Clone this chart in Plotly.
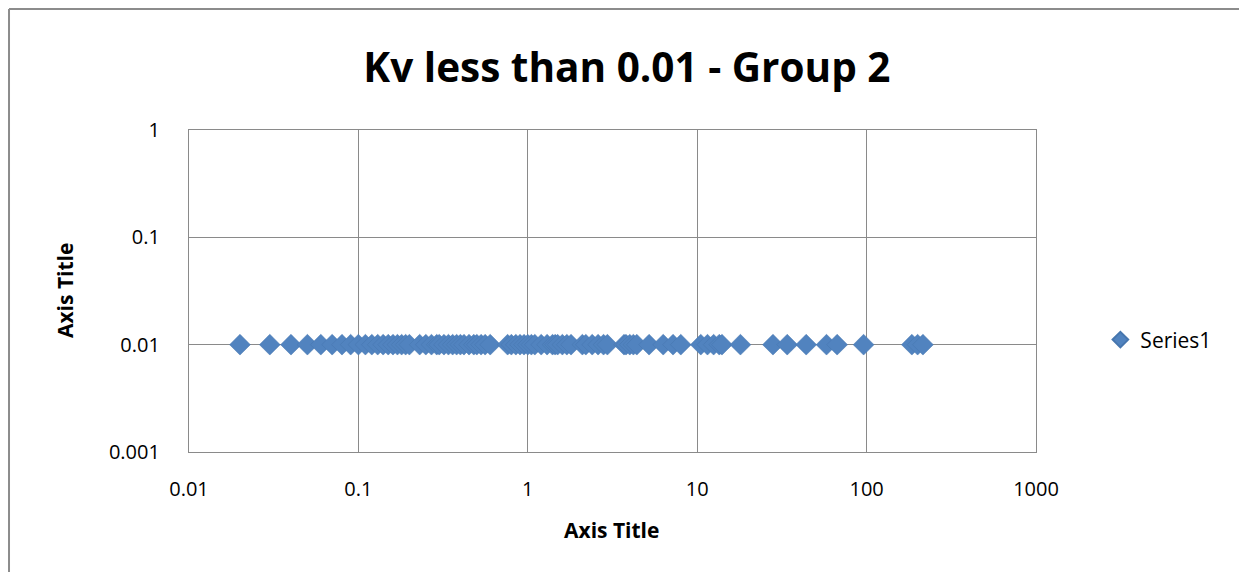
import plotly.graph_objects as go

# Data (x values, all y = 0.01)
x_values = [0.02, 0.03, 0.04, 0.05, 0.06, 0.07, 0.08, 0.09, 0.1, 0.11, 0.12, 0.13,
            0.14, 0.15, 0.16, 0.17, 0.18, 0.19, 0.2, 0.23, 0.25, 0.27, 0.29, 0.3,
            0.32, 0.34, 0.36, 0.38, 0.4, 0.42, 0.45, 0.48, 0.5, 0.53, 0.56, 0.6,
            0.76, 0.8, 0.85, 0.9, 0.95, 1.0, 1.05, 1.1, 1.2, 1.3, 1.4, 1.45, 1.5,
            1.6, 1.7, 1.8, 2.1, 2.2, 2.4, 2.6, 2.8, 2.95, 3.7, 3.8, 4.0, 4.2, 4.4,
            5.2, 6.3, 7.2, 8.0, 10.5, 11.5, 12.5, 13.5, 14.0, 18, 28, 34, 44, 58,
            67, 96, 185, 200, 215]
y_values = [0.01] * len(x_values)

x_ticks = [0.01, 0.1, 1, 10, 100, 1000]
x_tick_labels = ["0.01", "0.1", "1", "10", "100", "1000"]
y_ticks = [0.001, 0.01, 0.1, 1]
y_tick_labels = ["0.001", "0.01", "0.1", "1"]

font_family = "Open Sans, Liberation Sans, sans-serif"
grid_color = "#8A8A8A"

fig = go.Figure()
fig.add_trace(go.Scatter(
    x=x_values, y=y_values, mode="markers", name="Series1",
    marker=dict(symbol="diamond", size=16, color="#5183BF",
                line=dict(color="#4676AE", width=0.5)),
))

fig.update_layout(
    width=1231, height=564,
    margin=dict(l=181, r=203, t=122, b=120),
    paper_bgcolor="white", plot_bgcolor="white",
    font=dict(family=font_family, size=20, color="black"),
    title=dict(text="<b>Kv less than 0.01 - Group 2</b>", xref="paper", x=0.517,
               xanchor="center", y=0.8936, yanchor="middle",
               font=dict(size=40.5, family=font_family)),
    showlegend=True,
    legend=dict(x=1.076, y=0.348, xanchor="left", yanchor="middle",
                font=dict(size=21), bgcolor="rgba(0,0,0,0)", itemsizing="constant"),
    xaxis=dict(type="log", range=[-2, 3], tickvals=x_ticks, ticktext=x_tick_labels,
               showgrid=True, gridcolor=grid_color, gridwidth=1.2,
               showline=True, linecolor=grid_color, linewidth=1.2, mirror=True,
               ticks="", zeroline=False, tickfont=dict(size=20),
               ticklabelstandoff=19),
    yaxis=dict(type="log", range=[-3, 0], tickvals=y_ticks, ticktext=y_tick_labels,
               showgrid=True, gridcolor=grid_color, gridwidth=1.2,
               showline=True, linecolor=grid_color, linewidth=1.2, mirror=True,
               ticks="", zeroline=False, tickfont=dict(size=20),
               ticklabelstandoff=24),
    annotations=[
        dict(text="<b>Axis Title</b>", xref="paper", yref="paper", x=0.4994, y=-0.242,
             xanchor="center", yanchor="middle", showarrow=False, font=dict(size=21)),
        dict(text="<b>Axis Title</b>", xref="paper", yref="paper", x=-0.1464, y=0.503,
             xanchor="center", yanchor="middle", showarrow=False, textangle=-90,
             font=dict(size=21)),
    ],
    shapes=[
        dict(type="line", xref="paper", yref="paper",
             x0=-0.2125, x1=-0.2125, y0=-0.6, y1=1.3758,
             line=dict(color="#8C8C8C", width=2), layer="below"),
        dict(type="line", xref="paper", yref="paper",
             x0=-0.2125, x1=1.4, y0=1.3758, y1=1.3758,
             line=dict(color="#8C8C8C", width=2), layer="below"),
    ],
)

fig.write_html("out.html")
